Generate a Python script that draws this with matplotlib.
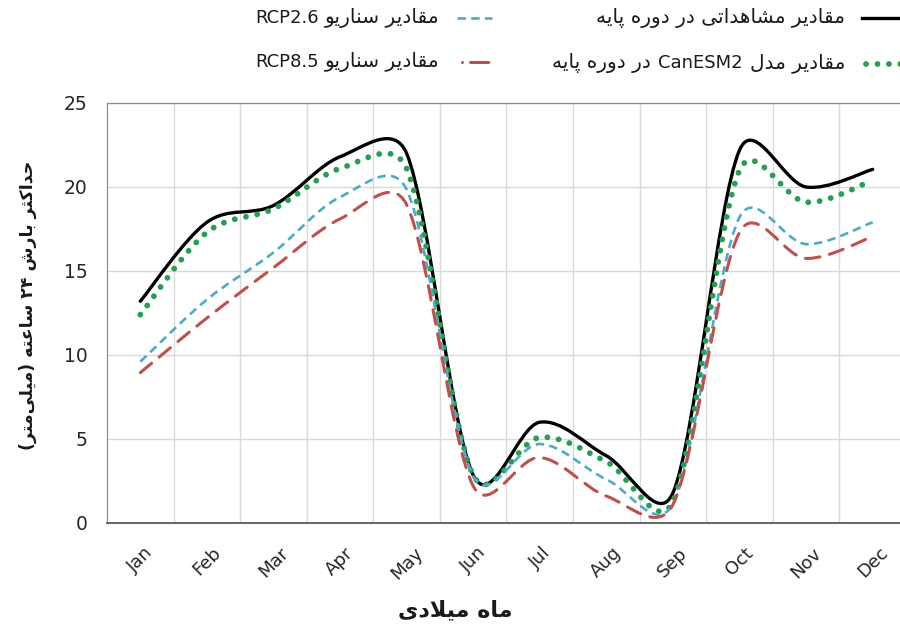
import re

import numpy as np
import matplotlib
matplotlib.use("Agg")
import matplotlib.pyplot as plt
from matplotlib import font_manager, ft2font
from matplotlib.lines import Line2D
from matplotlib.path import Path
from matplotlib.patches import PathPatch
from matplotlib.transforms import ScaledTranslation
from matplotlib.offsetbox import TextArea, HPacker, AnchoredOffsetbox


# ==================================================
# 1. Data (max 24-hour precipitation, mm)
# ==================================================

months = ["Jan", "Feb", "Mar", "Apr", "May", "Jun",
          "Jul", "Aug", "Sep", "Oct", "Nov", "Dec"]

observed = [13.2, 17.9, 18.9, 21.8, 22.0, 2.85, 6.0, 4.0, 1.8, 22.2, 20.0, 21.05]
canesm2 = [12.4, 17.3, 18.7, 21.1, 21.1, 2.85, 5.1, 3.65, 1.3, 21.0, 19.1, 20.4]
rcp26 = [9.6, 13.3, 16.1, 19.4, 19.85, 2.8, 4.7, 2.6, 1.15, 18.2, 16.6, 17.9]
rcp85 = [8.95, 12.2, 15.2, 18.1, 18.95, 2.2, 3.9, 1.6, 1.1, 17.3, 15.75, 17.05]

label_observed = "مقادیر مشاهداتی در دورۀ پایه"
label_canesm2 = "مقادیر مدل CanESM2 در دورۀ پایه"
label_rcp26 = "مقادیر سناریو RCP2.6"
label_rcp85 = "مقادیر سناریو RCP8.5"
x_title = "ماه میلادی"
y_title = "حداکثر بارش ۲۴ ساعته (میلی\u200cمتر)"


# ==================================================
# 2. Minimal Persian shaping (matplotlib has no bidi)
# ==================================================

# (isolated, final, initial, medial); None = joins only to the right
FORMS = {
    "\u0627": ("\uFE8D", "\uFE8E", None, None),      # alef
    "\u0628": ("\uFE8F", "\uFE90", "\uFE91", "\uFE92"),
    "\u067E": ("\uFB56", "\uFB57", "\uFB58", "\uFB59"),
    "\u062A": ("\uFE95", "\uFE96", "\uFE97", "\uFE98"),
    "\u062B": ("\uFE99", "\uFE9A", "\uFE9B", "\uFE9C"),
    "\u062D": ("\uFEA1", "\uFEA2", "\uFEA3", "\uFEA4"),
    "\u062F": ("\uFEA9", "\uFEAA", None, None),      # dal
    "\u0631": ("\uFEAD", "\uFEAE", None, None),      # reh
    "\u0633": ("\uFEB1", "\uFEB2", "\uFEB3", "\uFEB4"),
    "\u0634": ("\uFEB5", "\uFEB6", "\uFEB7", "\uFEB8"),
    "\u0639": ("\uFEC9", "\uFECA", "\uFECB", "\uFECC"),
    "\u0642": ("\uFED5", "\uFED6", "\uFED7", "\uFED8"),
    "\u06A9": ("\uFB8E", "\uFB8F", "\uFB90", "\uFB91"),
    "\u0644": ("\uFEDD", "\uFEDE", "\uFEDF", "\uFEE0"),
    "\u0645": ("\uFEE1", "\uFEE2", "\uFEE3", "\uFEE4"),
    "\u0646": ("\uFEE5", "\uFEE6", "\uFEE7", "\uFEE8"),
    "\u0647": ("\uFEE9", "\uFEEA", "\uFEEB", "\uFEEC"),
    "\u0648": ("\uFEED", "\uFEEE", None, None),      # waw
    "\u06CC": ("\uFBFC", "\uFBFD", "\uFBFE", "\uFBFF"),
    "\u06C0": ("\uFBA4", "\uFBA5", None, None),      # heh with yeh
}
FALLBACK = {"\uFBFC": "\uFEEF", "\uFBFD": "\uFEF0",
            "\uFBFE": "\uFEF3", "\uFBFF": "\uFEF4",
            "\uFBA4": "\uFEE9", "\uFBA5": "\uFEEA"}
BASE = {g: c for c, forms in FORMS.items() for g in forms if g}
MIRROR = str.maketrans("()", ")(")
LTR_CHARS = "A-Za-z0-9.\u06F0-\u06F9"


def font_cmap(weight):
    prop = font_manager.FontProperties(family="DejaVu Sans", weight=weight)
    return ft2font.FT2Font(font_manager.findfont(prop)).get_charmap()


def shape(text, cmap):
    out = []
    i = 0
    n = len(text)
    while i < n:
        c = text[i]
        if c not in FORMS:
            out.append(c)
            i += 1
            continue
        prev = text[i - 1] if i > 0 else ""
        link_prev = prev in FORMS and FORMS[prev][2] is not None
        if c == "\u0644" and i + 1 < n and text[i + 1] == "\u0627":
            out.append("\uFEFC" if link_prev else "\uFEFB")
            i += 2
            continue
        nxt = text[i + 1] if i + 1 < n else ""
        link_next = FORMS[c][2] is not None and nxt in FORMS
        iso, fin, ini, med = FORMS[c]
        if link_prev and link_next:
            g = med
        elif link_prev:
            g = fin
        elif link_next:
            g = ini
        else:
            g = iso
        out.append(g)
        i += 1

    glyphs = []
    for g in out:
        if ord(g) not in cmap and g in FALLBACK:
            g = FALLBACK[g]
        if ord(g) not in cmap and g in BASE:
            g = BASE[g]
        glyphs.append(g)
    return "".join(glyphs).replace("\u200c", "")


def rtl_runs(text, weight="normal"):
    # visual order, left to right: (piece, is_latin)
    shaped = shape(text, font_cmap(weight))
    runs = re.findall(f"[{LTR_CHARS}]+|[^{LTR_CHARS}]+", shaped)
    parts = []
    for run in reversed(runs):
        if re.match(f"[{LTR_CHARS}]", run):
            parts.append((run, True))
        else:
            parts.append((run[::-1].translate(MIRROR).strip(), False))
    return [(p, is_ltr) for p, is_ltr in parts if p]


def rtl(text, weight="normal"):
    return " ".join(p for p, _ in rtl_runs(text, weight))


# ==================================================
# 3. Excel-like smoothed line (Bezier in screen space)
# ==================================================

def smooth_path(ax, ys):
    pts = ax.transData.transform(np.column_stack([np.arange(len(ys)), ys]))
    n = len(pts)

    def handle(a, b, seg):
        # tangent / 6, but never longer than half the segment
        v = (b - a) / 6
        length = np.hypot(*v)
        if length > seg / 2:
            v = v * (seg / 2) / length
        return v

    verts = [pts[0]]
    codes = [Path.MOVETO]
    for i in range(n - 1):
        p0 = pts[i - 1] if i > 0 else pts[i]
        p1 = pts[i]
        p2 = pts[i + 1]
        p3 = pts[i + 2] if i + 2 < n else pts[i + 1]
        seg = np.hypot(*(p2 - p1))
        verts += [p1 + handle(p0, p2, seg), p2 - handle(p1, p3, seg), p2]
        codes += [Path.CURVE4] * 3
    return Path(ax.transData.inverted().transform(verts), codes)


# ==================================================
# 4. Figure
# ==================================================

plt.rcParams["font.family"] = ["DejaVu Sans"]

W, H = 900, 633
fig = plt.figure(figsize=(W / 100, H / 100), dpi=100)
ax = fig.add_axes([107 / W, 1 - 523 / H, 799 / W, 420 / H])

ax.set_xlim(-0.5, len(months) - 0.5)
ax.set_ylim(0, 25)

ax.set_xticks(range(len(months)))
ax.set_xticklabels(months, rotation=45, ha="center", fontsize=13,
                   color="#262626")
offset = ScaledTranslation(-9 / 100, 0, fig.dpi_scale_trans)
for lab in ax.get_xticklabels():
    lab.set_transform(lab.get_transform() + offset)
ax.set_xticks(np.arange(0.5, len(months) - 1, 1), minor=True)
ax.set_yticks(range(0, 26, 5))
ax.tick_params(axis="x", which="both", length=0, pad=15)
ax.tick_params(axis="y", length=0, pad=14, labelsize=13.5,
               labelcolor="#262626")

ax.grid(axis="x", which="minor", color="#d9d9d9", lw=1)
ax.grid(axis="y", which="major", color="#d9d9d9", lw=1)
ax.set_axisbelow(True)
for side in ["left", "top", "right"]:
    ax.spines[side].set_color("#8c8c8c")
    ax.spines[side].set_linewidth(0.9)
ax.spines["bottom"].set_color("#595959")
ax.spines["bottom"].set_linewidth(1.3)

green = "#2a9d55"
blue = "#4bacc6"
red = "#c0504d"

series = [
    (observed, dict(ec="black", lw=2.4, ls="-", capstyle="round")),
    (canesm2, dict(ec=green, lw=4.2, ls=(0, (0.01, 1.95)), capstyle="round")),
    (rcp26, dict(ec=blue, lw=1.9, ls=(0, (3.2, 2.0)), capstyle="butt")),
    (rcp85, dict(ec=red, lw=2.2, ls=(0, (4.8, 3.2)), capstyle="round")),
]
for values, style in series:
    ax.add_patch(PathPatch(smooth_path(ax, values), fill=False, **style))


# ==================================================
# 5. Legend (drawn by hand, right-to-left layout)
# ==================================================

def fx(px):
    return px / W


def fy(py):
    return 1 - py / H


def legend_label(text, px, py):
    boxes = []
    for piece, is_latin in rtl_runs(text):
        size = 13 if is_latin else 14.5
        boxes.append(TextArea(piece, textprops=dict(fontsize=size,
                                                    color="#1a1a1a")))
    pack = HPacker(children=boxes, align="baseline", pad=0, sep=5)
    box = AnchoredOffsetbox(loc="center right", child=pack, pad=0,
                            borderpad=0, frameon=False,
                            bbox_to_anchor=(fx(px), fy(py)),
                            bbox_transform=fig.transFigure)
    fig.add_artist(box)


fig.add_artist(Line2D([fx(862), fx(905)], [fy(18), fy(18)], color="black",
                      lw=2.4, transform=fig.transFigure))
fig.add_artist(Line2D([fx(866), fx(905)], [fy(64), fy(64)], color=green,
                      lw=4.2, ls=(0, (0.01, 1.95)), solid_capstyle="round",
                      dash_capstyle="round", transform=fig.transFigure))
fig.add_artist(Line2D([fx(457), fx(492)], [fy(18), fy(18)], color=blue,
                      lw=1.9, ls=(0, (3.2, 2.0)), transform=fig.transFigure))
fig.add_artist(Line2D([fx(462), fx(492)], [fy(62), fy(62)], color=red,
                      lw=2.2, ls=(0, (0.01, 2.6, 6.0, 2.0)),
                      dash_capstyle="round", transform=fig.transFigure))

legend_label(label_observed, 845, 18)
legend_label(label_canesm2, 845, 63)
legend_label(label_rcp26, 440, 18)
legend_label(label_rcp85, 440, 62)


# ==================================================
# 6. Axis titles
# ==================================================

fig.text(fx(455), fy(610), rtl(x_title, "bold"), ha="center", va="center",
         fontsize=16, fontweight="bold", color="#1a1a1a")
fig.text(fx(28), fy(305), rtl(y_title, "bold"), ha="center", va="center",
         rotation=90, fontsize=12.5, fontweight="bold", color="#1a1a1a")

fig.savefig("out.png", dpi=100)
